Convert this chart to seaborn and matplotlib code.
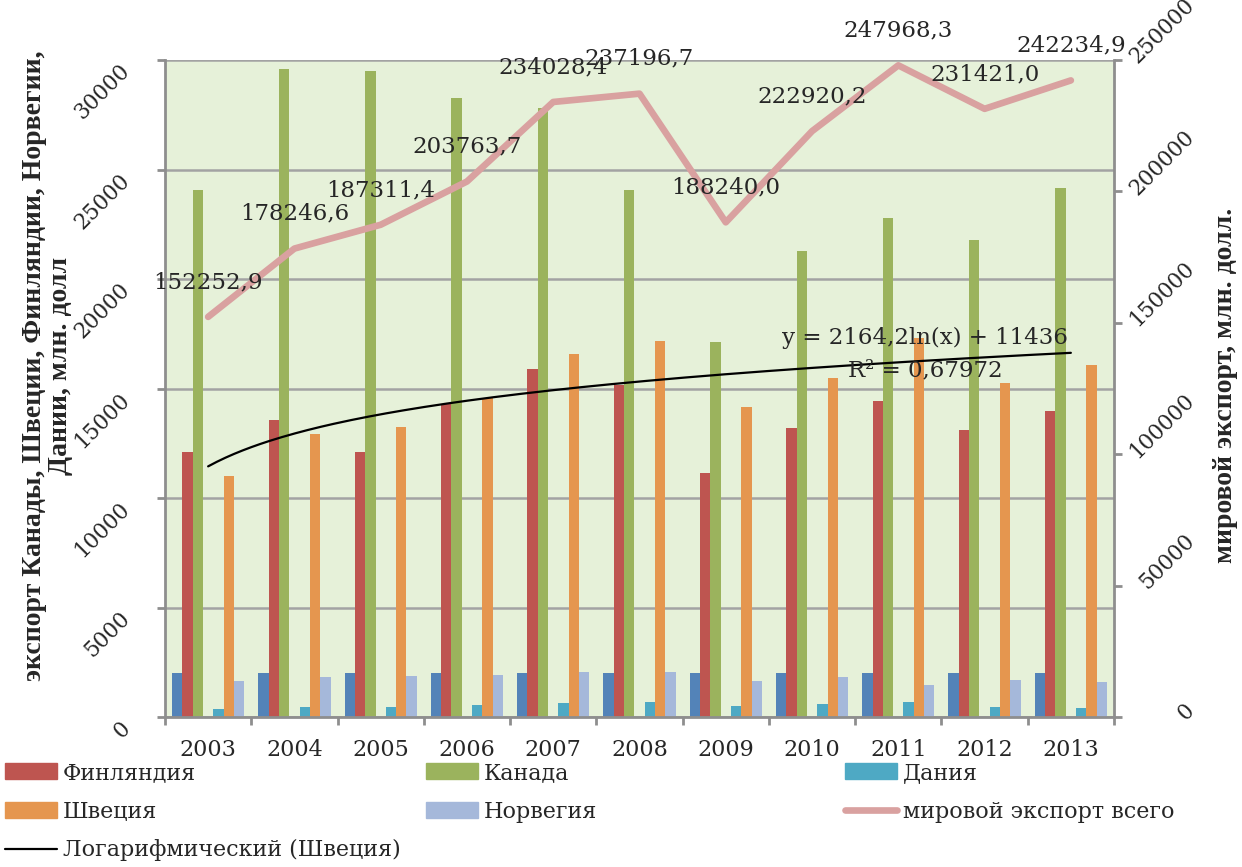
import numpy as np
import pandas as pd
import matplotlib
matplotlib.use("Agg")
import matplotlib.pyplot as plt
import matplotlib.transforms as mtransforms
from matplotlib.patches import Patch
from matplotlib.lines import Line2D
import seaborn as sns

# ---------------- data ----------------
years = ["2003", "2004", "2005", "2006", "2007", "2008", "2009", "2010", "2011", "2012", "2013"]
year_values = [2003, 2004, 2005, 2006, 2007, 2008, 2009, 2010, 2011, 2012, 2013]
finland = [12080, 13575, 12100, 14290, 15880, 15180, 11140, 13200, 14420, 13120, 13955]
canada = [24080, 29570, 29480, 28260, 27810, 24045, 17120, 21280, 22800, 21780, 24170]
empty_series = [0, 0, 0, 0, 0, 0, 0, 0, 0, 0, 0]
denmark = [380, 440, 470, 560, 620, 685, 515, 593, 685, 440, 410]
sweden = [11020, 12920, 13240, 14545, 16570, 17180, 14136, 15470, 17320, 15270, 16060]
norway = [1625, 1810, 1870, 1930, 2050, 2050, 1640, 1810, 1460, 1700, 1610]
world = [152252.9, 178246.6, 187311.4, 203763.7, 234028.4, 237196.7,
         188240.0, 222920.2, 247968.3, 231421.0, 242234.9]

series_names = ["год", "Финляндия", "Канада", " ", "Дания", "Швеция", "Норвегия"]
series_values = [year_values, finland, canada, empty_series, denmark, sweden, norway]
colors = {"год": "#5383B8", "Финляндия": "#BE5550", "Канада": "#9BB35D", " ": "#FFFFFF",
          "Дания": "#4EA9C4", "Швеция": "#E5964F", "Норвегия": "#A5B8DA"}
line_color = "#D9A1A0"
trend_eq = "y = 2164,2ln(x) + 11436"
trend_r2 = "R² = 0,67972"

rows = []
for name, vals in zip(series_names, series_values):
    for y, v in zip(years, vals):
        rows.append({"year": y, "series": name, "value": v})
df = pd.DataFrame(rows)

# ---------------- figure ----------------
sns.set_theme(style="white")
plt.rcParams["font.family"] = ["DejaVu Serif", "DejaVu Sans"]

W, H = 1242, 867
fig = plt.figure(figsize=(W / 100, H / 100), dpi=100)
L, R, T, B = 165, 1114, 60, 717
ax = fig.add_axes([L / W, 1 - B / H, (R - L) / W, (B - T) / H])
ax.set_facecolor("#E6F1D9")

sns.barplot(data=df, x="year", y="value", hue="series", hue_order=series_names,
            order=years, palette=colors, width=0.837, saturation=1,
            errorbar=None, legend=False, ax=ax, linewidth=0)

# logarithmic trendline for Sweden
xi = np.arange(1, len(sweden) + 1)
a, b = np.polyfit(np.log(xi), np.array(sweden, dtype=float), 1)
xs = np.linspace(1, len(sweden), 200)
ax.plot(xs - 1, a * np.log(xs) + b, color="black", lw=1.6, zorder=4)
ax.text(0.801, 0.577, trend_eq, transform=ax.transAxes, ha="center", va="center",
        fontsize=16.5, zorder=5)
ax.text(0.801, 0.528, trend_r2, transform=ax.transAxes, ha="center", va="center",
        fontsize=16.5, zorder=5)

ax.set_xlim(-0.5, len(years) - 0.5)
ax.set_ylim(0, 30000)
ax.set_yticks(np.arange(0, 30001, 5000))
ax.set_xlabel("")
ax.set_ylabel("")
ax.set_axisbelow(True)
ax.yaxis.grid(True, color="#A3A3A3", lw=1.8)
ax.xaxis.grid(False)

gray = "#8E8E8E"
for s in ["top", "right"]:
    ax.spines[s].set_visible(False)
for s in ["left", "bottom"]:
    ax.spines[s].set_color(gray)
    ax.spines[s].set_linewidth(2)

ax.set_xticks(np.arange(-0.5, len(years), 1.0), minor=True)
ax.tick_params(axis="x", which="minor", length=6, width=2, color=gray, direction="out", bottom=True)
ax.tick_params(axis="x", which="major", length=0, pad=16, labelsize=16)
ax.tick_params(axis="y", which="major", length=6, width=2, color=gray, direction="out",
               left=True, pad=16, labelsize=15.5)
for lab in ax.get_yticklabels():
    lab.set_rotation(45)
    lab.set_ha("right")
    lab.set_va("top")

ax.set_ylabel("экспорт Канады, Швеции, Финляндии, Норвегии,\nДании, млн. долл",
              fontsize=20, fontweight="bold", family="Liberation Serif", linespacing=1.05)
ax.yaxis.set_label_coords(-0.097, 0.534)

# secondary axis: world export
ax2 = ax.twinx()
ax2.patch.set_visible(False)
idx = np.arange(len(years))
sns.lineplot(x=idx, y=world, color=line_color, lw=4.8, ax=ax2, zorder=3)
ax2.set_ylim(0, 250000)
ax2.set_yticks(np.arange(0, 250001, 50000))
for s in ["top", "left", "bottom"]:
    ax2.spines[s].set_visible(False)
ax2.spines["right"].set_color(gray)
ax2.spines["right"].set_linewidth(2)
ax2.tick_params(axis="y", length=6, width=2, color=gray, direction="out", right=True,
                pad=55, labelsize=15.5)
offset = mtransforms.ScaledTranslation(0, -0.08, fig.dpi_scale_trans)
for lab in ax2.get_yticklabels():
    lab.set_rotation(45)
    lab.set_ha("right")
    lab.set_va("bottom")
    lab.set_transform(lab.get_transform() + offset)
ax2.set_ylabel("мировой экспорт, млн. долл.", fontsize=20, fontweight="bold",
               family="Liberation Serif", rotation=90)
ax2.yaxis.set_label_coords(1.104, 0.505)

for i, v in enumerate(world):
    ax2.annotate(f"{v:.1f}".replace(".", ","), (i, v), xytext=(0, 25),
                 textcoords="offset points", ha="center", va="center", fontsize=16.5, zorder=6)

# ---------------- legend ----------------
leg_kw = dict(frameon=False, fontsize=16, handlelength=2.35, handletextpad=0.25,
              labelspacing=0.75, borderpad=0, borderaxespad=0, loc="upper left")
col1 = [Patch(color=colors["Финляндия"]), Patch(color=colors["Швеция"]),
        Line2D([], [], color="black", lw=1.6)]
col2 = [Patch(color=colors["Канада"]), Patch(color=colors["Норвегия"])]
col3 = [Patch(color=colors["Дания"]), Line2D([], [], color=line_color, lw=4.8)]
top_y = 1 - 762 / H
l1 = fig.legend(col1, ["Финляндия", "Швеция", "Логарифмический (Швеция)"],
                bbox_to_anchor=(5 / W, top_y), **leg_kw)
l2 = fig.legend(col2, ["Канада", "Норвегия"], bbox_to_anchor=(426 / W, top_y), **leg_kw)
l3 = fig.legend(col3, ["Дания", "мировой экспорт всего"], bbox_to_anchor=(845 / W, top_y), **leg_kw)

fig.savefig("out.png", dpi=100)
